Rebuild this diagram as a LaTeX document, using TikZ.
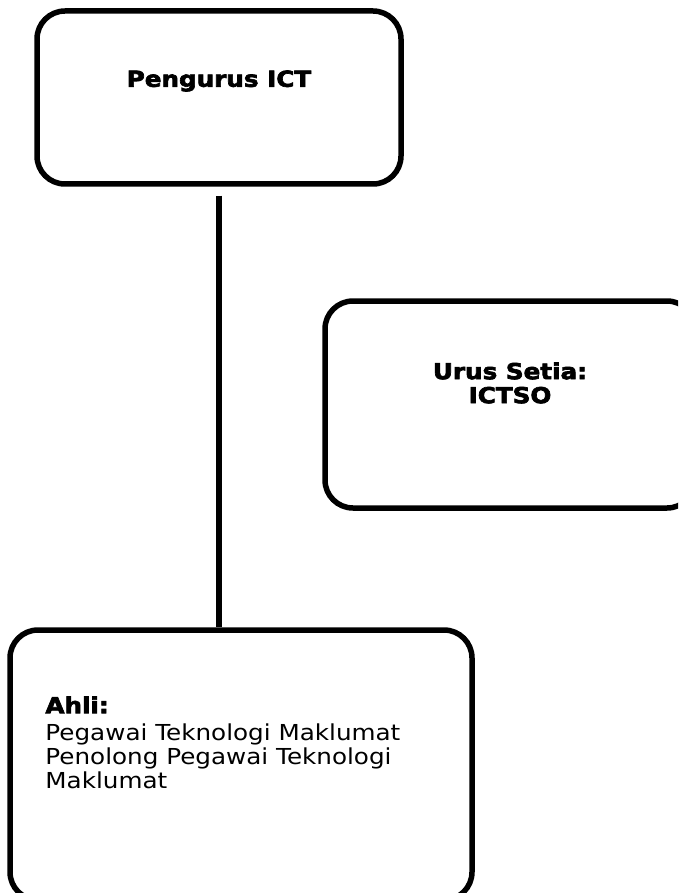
\documentclass[tikz,border=0pt]{standalone}
\usepackage{fontspec}
\setmainfont{DejaVu Sans}[FakeStretch=1.12, BoldFont={DejaVu Sans Bold}, BoldFeatures={FakeBold=3}]
\usepackage{tikz}
\usetikzlibrary{positioning}

\tikzset{
  unit/.style={draw, line width=5.5pt, rounded corners=28pt, inner sep=0pt},
  title/.style={inner sep=0pt, font=\bfseries\fontsize{22}{24}\selectfont, align=center},
  members/.style={inner sep=0pt, font=\fontsize{22}{24}\selectfont, align=left}
}

\begin{document}
\begin{tikzpicture}[x=1pt,y=1pt]
            \useasboundingbox (0,0) rectangle (678,-893);
            \clip (0,0) rectangle (678,-893);
            \draw node[unit, minimum width=364pt, minimum height=173pt] (ict) at (219,-97.5) {} ;
            \draw node[unit, minimum width=370pt, minimum height=207pt] (ictso) at (510,-404.5) {} ;
            \draw node[unit, minimum width=462pt, minimum height=270pt] (ahli) at (241,-765) {} ;
            \draw node[title, below=62pt of ict.north] (ictT) {Pengurus ICT} ;
            \draw node[title, below=64pt of ictso.north] (ictsoT) {Urus Setia:\\ICTSO} ;
            \draw node[members, below right=69pt and 38pt of ahli.north west] (ahliT)
                 {\textbf{Ahli:}\\[3pt]Pegawai Teknologi Maklumat\\Penolong Pegawai Teknologi\\Maklumat} ;
            \draw[line width=5.5pt, shorten <=9pt] (ict.south) -- (ict.south |- ahli.north) ;
        \end{tikzpicture}
\end{document}
